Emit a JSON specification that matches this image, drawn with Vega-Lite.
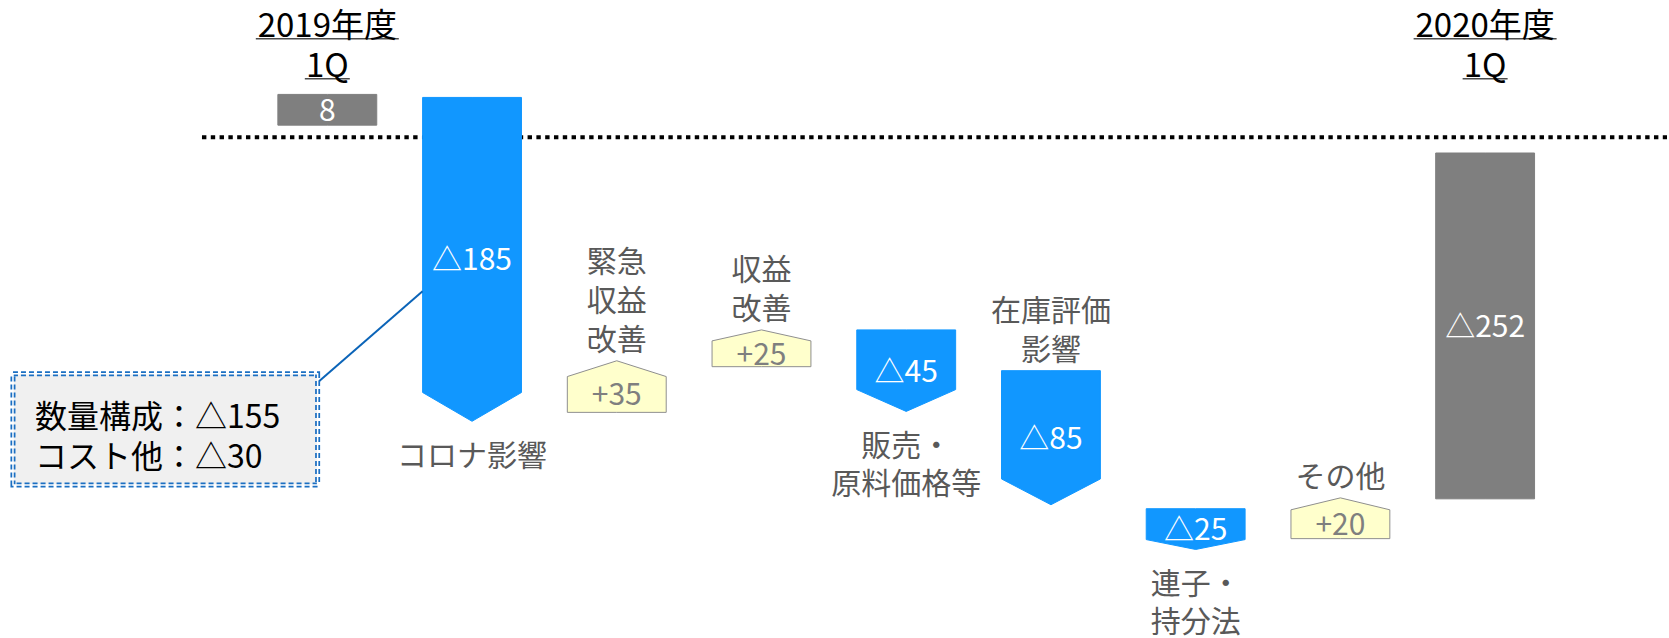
{
  "$schema": "https://vega.github.io/schema/vega-lite/v6.json",
  "autosize": {"type": "fit", "contains": "padding"},
  "width": 1669,
  "height": 638,
  "padding": 0,
  "background": "white",
  "config": {"view": {"stroke": null}, "font": "Noto Sans CJK JP"},
  "datasets": {
    "bars": [
      {"idx": 0, "item": "2019年度1Q", "kind": "total", "flat": 31.2, "edge": 8.8, "point": 8.8, "value": "8", "label": "", "side": "none"},
      {"idx": 1, "item": "コロナ影響", "kind": "down", "flat": 29.0, "edge": -186.0, "point": -207.0, "value": "△185", "label": "コロナ影響", "side": "below"},
      {"idx": 2, "item": "緊急収益改善", "kind": "up", "flat": -200.5, "edge": -174.4, "point": -162.9, "value": "+35", "label": "緊急\n収益\n改善", "side": "above"},
      {"idx": 3, "item": "収益改善", "kind": "up", "flat": -167.2, "edge": -148.4, "point": -140.4, "value": "+25", "label": "収益\n改善", "side": "above"},
      {"idx": 4, "item": "販売・原料価格等", "kind": "down", "flat": -140.4, "edge": -183.9, "point": -199.8, "value": "△45", "label": "販売・\n原料価格等", "side": "below"},
      {"idx": 5, "item": "在庫評価影響", "kind": "down", "flat": -170.1, "edge": -249.0, "point": -267.8, "value": "△85", "label": "在庫評価\n影響", "side": "above"},
      {"idx": 6, "item": "連子・持分法", "kind": "down", "flat": -270.7, "edge": -293.2, "point": -300.4, "value": "△25", "label": "連子・\n持分法", "side": "below"},
      {"idx": 7, "item": "その他", "kind": "up", "flat": -292.5, "edge": -271.5, "point": -262.8, "value": "+20", "label": "その他", "side": "above"},
      {"idx": 8, "item": "2020年度1Q", "kind": "total", "flat": -11.5, "edge": -263.5, "point": -263.5, "value": "△252", "label": "", "side": "none"}
    ],
    "titles": [
      {"idx": 0, "title": "2019年度\n1Q"},
      {"idx": 8, "title": "2020年度\n1Q"}
    ]
  },
  "layer": [
    {
      "data": {"values": [{}]},
      "mark": {"type": "rule", "color": "black", "strokeWidth": 4, "strokeDash": [4.4, 4.4]},
      "encoding": {
        "x": {"datum": -0.866, "type": "quantitative", "scale": {"domain": [-2.2616, 9.2567], "nice": false, "zero": false}, "axis": null},
        "x2": {"datum": 9.2567},
        "y": {"datum": 0, "type": "quantitative", "scale": {"domain": [-362, 100], "nice": false, "zero": false}, "axis": null}
      }
    },
    {
      "data": {"name": "bars"},
      "transform": [
        {"calculate": "datum.edge", "as": "edgeR"},
        {"fold": ["edge", "point", "edgeR"], "as": ["corner", "prof"]},
        {"calculate": "datum.idx + (datum.corner === 'edge' ? -0.3416 : (datum.corner === 'edgeR' ? 0.3416 : 0))", "as": "xpos"}
      ],
      "mark": {"type": "area", "interpolate": "linear", "strokeWidth": 1},
      "encoding": {
        "x": {"field": "xpos", "type": "quantitative", "scale": {"domain": [-2.2616, 9.2567], "nice": false, "zero": false}, "axis": null},
        "y": {"field": "flat", "type": "quantitative", "stack": null, "scale": {"domain": [-362, 100], "nice": false, "zero": false}, "axis": null},
        "y2": {"field": "prof"},
        "detail": {"field": "idx", "type": "nominal"},
        "color": {"field": "kind", "type": "nominal", "scale": {"domain": ["total", "down", "up"], "range": ["#7f7f7f", "#1197ff", "#ffffcc"]}, "legend": null},
        "stroke": {"field": "kind", "type": "nominal", "scale": {"domain": ["total", "down", "up"], "range": ["#7f7f7f", "#1197ff", "#8f8f8f"]}, "legend": null}
      }
    },
    {
      "data": {"name": "bars"},
      "transform": [{"calculate": "datum.kind === 'down' ? (datum.flat + datum.point) / 2 : (datum.flat + datum.edge) / 2", "as": "mid"}],
      "mark": {"type": "text", "fontSize": 30, "align": "center", "baseline": "middle", "dy": 2},
      "encoding": {
        "x": {"field": "idx", "type": "quantitative", "scale": {"domain": [-2.2616, 9.2567], "nice": false, "zero": false}, "axis": null},
        "y": {"field": "mid", "type": "quantitative", "scale": {"domain": [-362, 100], "nice": false, "zero": false}, "axis": null},
        "text": {"field": "value"},
        "color": {"condition": {"test": "datum.kind === 'up'", "value": "#7f7f7f"}, "value": "#ffffff"}
      }
    },
    {
      "data": {"name": "bars"},
      "transform": [
        {"filter": "datum.side === 'above'"},
        {"calculate": "max(datum.flat, datum.point) + (length(split(datum.label, '\\n')) - 1) * 39 / 1.381", "as": "anchor"}
      ],
      "mark": {"type": "text", "fontSize": 30, "lineHeight": 39, "lineBreak": "\n", "align": "center", "baseline": "bottom", "dy": -5, "color": "#595959"},
      "encoding": {
        "x": {"field": "idx", "type": "quantitative", "scale": {"domain": [-2.2616, 9.2567], "nice": false, "zero": false}, "axis": null},
        "y": {"field": "anchor", "type": "quantitative", "scale": {"domain": [-362, 100], "nice": false, "zero": false}, "axis": null},
        "text": {"field": "label"}
      }
    },
    {
      "data": {"name": "bars"},
      "transform": [
        {"filter": "datum.side === 'below'"},
        {"calculate": "min(datum.flat, datum.point)", "as": "anchor"}
      ],
      "mark": {"type": "text", "fontSize": 30, "lineHeight": 38, "lineBreak": "\n", "align": "center", "baseline": "top", "dy": 21, "color": "#595959"},
      "encoding": {
        "x": {"field": "idx", "type": "quantitative", "scale": {"domain": [-2.2616, 9.2567], "nice": false, "zero": false}, "axis": null},
        "y": {"field": "anchor", "type": "quantitative", "scale": {"domain": [-362, 100], "nice": false, "zero": false}, "axis": null},
        "text": {"field": "label"}
      }
    },
    {
      "data": {"name": "titles"},
      "mark": {"type": "text", "fontSize": 33, "lineHeight": 40, "lineBreak": "\n", "align": "center", "baseline": "middle", "color": "#000000"},
      "encoding": {
        "x": {"field": "idx", "type": "quantitative", "scale": {"domain": [-2.2616, 9.2567], "nice": false, "zero": false}, "axis": null},
        "y": {"datum": 80.1, "type": "quantitative", "scale": {"domain": [-362, 100], "nice": false, "zero": false}, "axis": null},
        "text": {"field": "title"}
      }
    },
    {
      "data": {"name": "titles"},
      "mark": {"type": "tick", "orient": "horizontal", "size": 143, "thickness": 1.5, "yOffset": 11.5, "color": "#000000"},
      "encoding": {
        "x": {"field": "idx", "type": "quantitative", "scale": {"domain": [-2.2616, 9.2567], "nice": false, "zero": false}, "axis": null},
        "y": {"datum": 80.1, "type": "quantitative", "scale": {"domain": [-362, 100], "nice": false, "zero": false}, "axis": null}
      }
    },
    {
      "data": {"name": "titles"},
      "mark": {"type": "tick", "orient": "horizontal", "size": 45, "thickness": 1.5, "yOffset": 51.5, "color": "#000000"},
      "encoding": {
        "x": {"field": "idx", "type": "quantitative", "scale": {"domain": [-2.2616, 9.2567], "nice": false, "zero": false}, "axis": null},
        "y": {"datum": 80.1, "type": "quantitative", "scale": {"domain": [-362, 100], "nice": false, "zero": false}, "axis": null}
      }
    },
    {
      "data": {"values": [{}]},
      "mark": {"type": "rule", "color": "#0b64b8", "strokeWidth": 2},
      "encoding": {
        "x": {"datum": -0.067, "type": "quantitative", "scale": {"domain": [-2.2616, 9.2567], "nice": false, "zero": false}, "axis": null},
        "x2": {"datum": 0.658},
        "y": {"datum": -178.8, "type": "quantitative", "scale": {"domain": [-362, 100], "nice": false, "zero": false}, "axis": null},
        "y2": {"datum": -112.2}
      }
    },
    {
      "data": {"values": [{}]},
      "mark": {"type": "rect", "fill": "#f0f0f0", "stroke": "#1b6fc2", "strokeWidth": 5, "strokeDash": [5, 3]},
      "encoding": {
        "x": {"datum": -2.172, "type": "quantitative", "scale": {"domain": [-2.2616, 9.2567], "nice": false, "zero": false}, "axis": null},
        "x2": {"datum": -0.067},
        "y": {"datum": -172.3, "type": "quantitative", "scale": {"domain": [-362, 100], "nice": false, "zero": false}, "axis": null},
        "y2": {"datum": -253.4}
      }
    },
    {
      "data": {"values": [{}]},
      "mark": {"type": "rect", "fillOpacity": 0, "stroke": "#ffffff", "strokeWidth": 1.5},
      "encoding": {
        "x": {"datum": -2.172, "type": "quantitative", "scale": {"domain": [-2.2616, 9.2567], "nice": false, "zero": false}, "axis": null},
        "x2": {"datum": -0.067},
        "y": {"datum": -172.3, "type": "quantitative", "scale": {"domain": [-362, 100], "nice": false, "zero": false}, "axis": null},
        "y2": {"datum": -253.4}
      }
    },
    {
      "data": {"values": [{}]},
      "mark": {"type": "text", "fontSize": 32, "lineHeight": 40, "align": "left", "baseline": "middle", "color": "#000000"},
      "encoding": {
        "x": {"datum": -2.02, "type": "quantitative", "scale": {"domain": [-2.2616, 9.2567], "nice": false, "zero": false}, "axis": null},
        "y": {"datum": -204.9, "type": "quantitative", "scale": {"domain": [-362, 100], "nice": false, "zero": false}, "axis": null},
        "text": {"value": ["数量構成：△155", "コスト他：△30"]}
      }
    }
  ]
}
